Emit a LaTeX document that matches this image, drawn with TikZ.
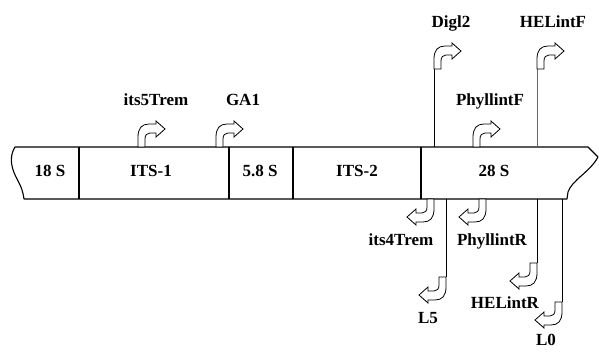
\documentclass[tikz,border=0pt]{standalone}
\usepackage{fontspec}
\setmainfont{Liberation Serif}
\begin{document}
\begin{tikzpicture}[x=1pt,y=-1pt,
  bar/.style={line width=1.1pt,line join=round},
  lbl/.style={font=\bfseries\fontsize{17}{19}\selectfont,inner sep=0pt,anchor=base},
  link/.style={line width=0.9pt},
  primer/.pic={\draw[line width=0.8pt,line join=miter,fill=white]
     (0,0) -- (0,-10) .. controls (0,-19) and (4,-23) .. (11,-23) -- (18,-23) -- (18,-26)
     -- (27,-18) -- (18,-10) -- (18,-14) -- (12,-14) .. controls (9,-14) and (7,-12) .. (7,-8)
     -- (7,0) -- cycle;}]
\useasboundingbox (0,0) rectangle (599,351);
% bar outline
\draw[bar] (15,147) -- (588,147) -- (598,157) .. controls (590,172) and (572,180) .. (568,192)
  -- (567,199) -- (24,199) .. controls (23,192) and (22,188) .. (16,177)
  .. controls (10,165) and (10,155) .. cycle;
\foreach \x in {79,229,293,421} \draw[bar] (\x,147) -- (\x,199);
% segment labels
\node[lbl] (s18) at (50,176) {18 S};
\node[lbl] (its1) at (151,176) {ITS-1};
\node[lbl] (s58) at (260,176) {5.8 S};
\node[lbl] (its2) at (357,176) {ITS-2};
\node[lbl] (s28) at (494,176) {28 S};
% anchors on the bar
\coordinate (digB) at (434,147);
\coordinate (helFB) at (537,147);
\coordinate (l5B) at (446,199);
\coordinate (helRB) at (537,199);
\coordinate (l0B) at (562,199);
% arrow anchors
\coordinate (its5A) at (138,147);
\coordinate (ga1A) at (216,147);
\coordinate (phyFA) at (473,147);
\coordinate (digA) at (434,69);
\coordinate (helFA) at (537,69);
\coordinate (its4A) at (434,199);
\coordinate (phyRA) at (486,199);
\coordinate (l5A) at (446,277);
\coordinate (helRA) at (537,263);
\coordinate (l0A) at (562,302);
% connector lines
\draw[link] (digB) -- (digA);
\draw[link,black!60] (helFB) -- (helFA);
\draw[link] (l5B) -- (l5A);
\draw[link] (helRB) -- (helRA);
\draw[link] (l0B) -- (l0A);
% forward primers
\pic at (its5A) {primer};
\pic at (ga1A) {primer};
\pic at (phyFA) {primer};
\pic at (digA) {primer};
\pic at (helFA) {primer};
% reverse primers
\pic[rotate=180] at (its4A) {primer};
\pic[rotate=180] at (phyRA) {primer};
\pic[rotate=180] at (l5A) {primer};
\pic[rotate=180] at (helRA) {primer};
\pic[rotate=180] at (l0A) {primer};
% primer labels
\node[lbl] (t1) at (156,105) {its5Trem};
\node[lbl] (t2) at (243,105) {GA1};
\node[lbl] (t3) at (490,105) {PhyllintF};
\node[lbl] (t4) at (451,27) {Digl2};
\node[lbl] (t5) at (553,27) {HELintF};
\node[lbl] (t6) at (401,245) {its4Trem};
\node[lbl] (t7) at (492,245) {PhyllintR};
\node[lbl] (t8) at (428,323) {L5};
\node[lbl] (t9) at (505,308) {HELintR};
\node[lbl] (t10) at (546,345) {L0};
\end{tikzpicture}
\end{document}
